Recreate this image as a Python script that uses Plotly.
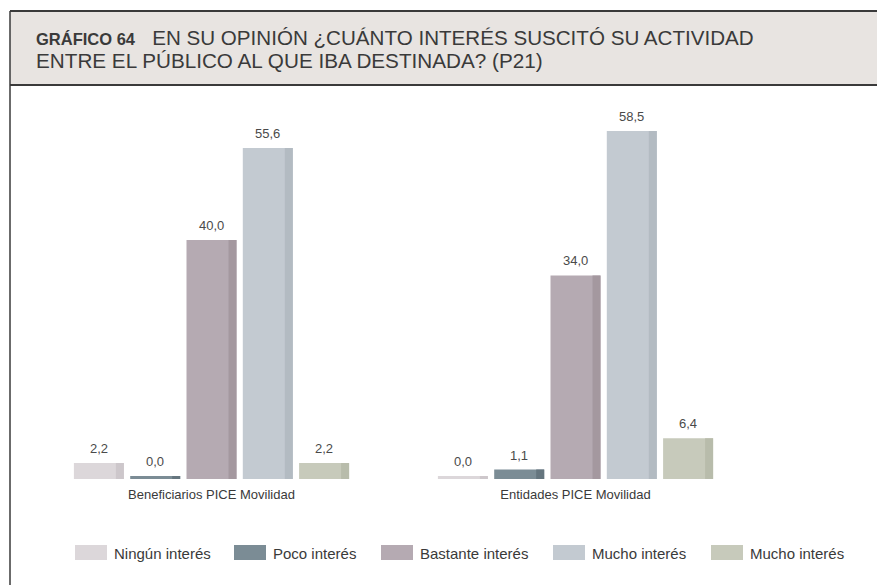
import plotly.graph_objects as go

# ---- data -------------------------------------------------------------
groups = ["Beneficiarios PICE Movilidad", "Entidades PICE Movilidad"]
series_names = ["Ningún interés", "Poco interés", "Bastante interés",
                "Mucho interés", "Mucho interés"]
ningun = [2.2, 0.0]
poco = [0.0, 1.1]
bastante = [40.0, 34.0]
mucho = [55.6, 58.5]
mucho_2 = [2.2, 6.4]
series_values = [ningun, poco, bastante, mucho, mucho_2]

# ---- styling ----------------------------------------------------------
face_colors = ["#dcd7da", "#7b8c95", "#b5aab2", "#c3cad1", "#c7cabb"]
side_colors = ["#cdc7cb", "#65757e", "#a4989f", "#b3bbc2", "#b8bcab"]
FONT = "Liberation Sans, Arial, Helvetica, sans-serif"
TEXT = "#3a3a3a"

W, H = 877, 585
GROUP_SPAN = 364.0            # px between the two group centres
BAR_PX = 50
PITCH_PX = 56.3
BAR_W = BAR_PX / GROUP_SPAN   # bar width in category units
PITCH = PITCH_PX / GROUP_SPAN # distance between neighbouring bars
SIDE_W = 8 / GROUP_SPAN       # darker side face giving the bars depth
FLOOR = -0.5                  # bars start slightly below zero so 0 shows
PX_PER_UNIT = 5.9
BASE_PX = 479                 # pixel row of the bar floor


def px_x(p):
    return p / W


def px_y(p):
    return 1 - p / H


def fmt(v):
    return f"{v:.1f}".replace(".", ",")


fig = go.Figure()
annotations = []

for i, (vals, fc, sc) in enumerate(zip(series_values, face_colors, side_colors)):
    off = (i - 2) * PITCH - BAR_W / 2
    lengths = [v - FLOOR for v in vals]
    fig.add_bar(
        x=groups, y=lengths, base=FLOOR, customdata=vals,
        name=series_names[i], width=BAR_W, offset=off,
        marker=dict(color=fc, line=dict(width=0)),
        showlegend=False,
        hovertemplate="%{x}<br>" + series_names[i] + ": %{customdata:.1f}<extra></extra>",
    )
    fig.add_bar(
        x=groups, y=lengths, base=FLOOR, width=SIDE_W,
        offset=off + BAR_W - SIDE_W,
        marker=dict(color=sc, line=dict(width=0)),
        hoverinfo="skip", showlegend=False,
    )
    # value labels above each bar
    for g, v in zip(groups, vals):
        annotations.append(dict(
            x=g, y=v, xref="x", yref="y", showarrow=False,
            xshift=(i - 2) * PITCH_PX, yshift=5, yanchor="bottom",
            text=fmt(v), font=dict(family=FONT, size=13, color="#4a4a4a")))

# ---- frame and title box ---------------------------------------------
shapes = [
    dict(type="rect", xref="paper", yref="paper", layer="below",
         x0=px_x(10), x1=1, y0=px_y(85), y1=px_y(11),
         fillcolor="#e8e4e1", line=dict(width=0)),
    dict(type="line", xref="paper", yref="paper",
         x0=px_x(10), x1=1, y0=px_y(11), y1=px_y(11),
         line=dict(color="#3a3a3a", width=2)),
    dict(type="line", xref="paper", yref="paper",
         x0=px_x(10), x1=1, y0=px_y(85), y1=px_y(85),
         line=dict(color="#3a3a3a", width=2)),
    dict(type="line", xref="paper", yref="paper",
         x0=px_x(10), x1=px_x(10), y0=0, y1=px_y(11),
         line=dict(color="#3a3a3a", width=1.5)),
]

annotations += [
    dict(xref="paper", yref="paper", x=px_x(34), y=px_y(37),
         xanchor="left", yanchor="middle", showarrow=False,
         font=dict(family=FONT, size=20.6, color=TEXT),
         text='<span style="font-size:16.5px"><b>GRÁFICO 64</b></span>'
              '\u00a0\u00a0 EN SU OPINIÓN ¿CUÁNTO INTERÉS SUSCITÓ SU ACTIVIDAD'),
    dict(xref="paper", yref="paper", x=px_x(34), y=px_y(61),
         xanchor="left", yanchor="middle", showarrow=False,
         font=dict(family=FONT, size=20.7, color=TEXT),
         text="ENTRE EL PÚBLICO AL QUE IBA DESTINADA? (P21)"),
]

# ---- legend (wide swatches) -----------------------------------------
legend_x = [75, 234, 381, 553, 711]
for name, fc, lx in zip(series_names, face_colors, legend_x):
    shapes.append(dict(type="rect", xref="paper", yref="paper",
                       x0=px_x(lx), x1=px_x(lx + 32),
                       y0=px_y(560), y1=px_y(545),
                       fillcolor=fc, line=dict(width=0)))
    annotations.append(dict(xref="paper", yref="paper",
                            x=px_x(lx + 37), y=px_y(553),
                            xanchor="left", yanchor="middle", showarrow=False,
                            font=dict(family=FONT, size=15, color=TEXT),
                            text=name))

y_top = FLOOR + BASE_PX / PX_PER_UNIT
fig.update_layout(
    width=W, height=H,
    margin=dict(l=0, r=0, t=0, b=0),
    paper_bgcolor="white", plot_bgcolor="white",
    barmode="overlay",
    font=dict(family=FONT, color=TEXT),
    shapes=shapes, annotations=annotations,
    xaxis=dict(type="category", domain=[px_x(211.5 - GROUP_SPAN / 2), px_x(575.5 + GROUP_SPAN / 2)],
               range=[-0.5, 1.5], showgrid=False, showline=False, zeroline=False,
               ticks="", ticklabelstandoff=6,
               tickfont=dict(size=13, color=TEXT, family=FONT)),
    yaxis=dict(domain=[1 - BASE_PX / H, 1], range=[FLOOR, y_top], visible=False),
)

fig.write_html("out.html")
